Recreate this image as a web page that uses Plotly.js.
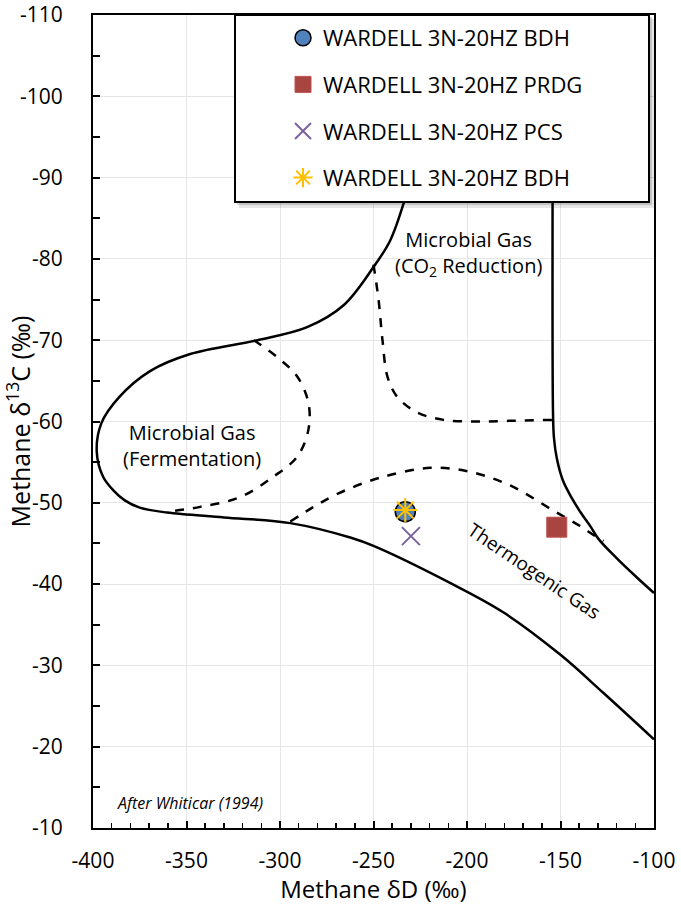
<!DOCTYPE html>
<html><head><meta charset="utf-8">
<script src="https://cdn.plot.ly/plotly-3.0.1.min.js"></script>
<style>html,body{margin:0;padding:0;background:#fff}#chart{width:681px;height:905px}</style>
</head><body><div id="chart"></div>
<script>
// Boundary curves (Methane dD, Methane d13C)
const outerX = [-205,-222,-233,-241,-250,-266,-285.5,-312,-348,-369.5,-386,-395.5,-398,-394.6,-389,-383,-375,-360.4,-330,-294.5,-262,-250,-207,-180.4,-150,-127,-100];
const outerY = [-110,-97,-87.5,-82.3,-79,-74.3,-71.6,-70,-68.3,-66.2,-63,-59.8,-56.3,-53.2,-51.5,-50.3,-49.4,-48.8,-48.2,-47.5,-45.7,-44.7,-39.9,-36.5,-31.3,-26.6,-20.9];
const rightX = [-154,-154,-153.5,-152,-148.8,-144,-139.2,-134,-129.5,-120,-110,-100];
const rightY = [-110,-61,-58,-55.5,-52.8,-50.6,-48.8,-47.1,-45.5,-43.2,-41,-38.9];
const fermX = [-314,-301.4,-290.7,-284.8,-284.8,-290.7,-303.6,-321.3,-342.7,-360.4];
const fermY = [-70,-67.9,-65.5,-62.3,-59,-55.7,-53.2,-50.7,-49.5,-48.9];
const co2X = [-250,-247.3,-245.2,-242.5,-237.2,-226.5,-212.5,-194.3,-175,-154];
const co2Y = [-79.3,-75,-70,-65.5,-63,-61.1,-60.2,-60,-60.1,-60.2];
const thermoX = [-294.5,-282,-269.3,-246.3,-219.5,-198.1,-176.6,-153.5,-140,-132,-127];
const thermoY = [-47.7,-49.5,-51.1,-53.1,-54.3,-53.8,-52.1,-49,-47.2,-46,-45.3];

// Samples
const seriesNames = ["WARDELL 3N-20HZ BDH","WARDELL 3N-20HZ PRDG","WARDELL 3N-20HZ PCS","WARDELL 3N-20HZ BDH"];
const sampleD = [-233, -152, -230, -233];
const sampleC = [-48.9, -47.0, -45.9, -49.1];

// Tick labels
const xTickVals = [-400,-350,-300,-250,-200,-150,-100];
const xTickText = ["-400","-350","-300","-250","-200","-150","-100"];
const yTickVals = [-110,-100,-90,-80,-70,-60,-50,-40,-30,-20,-10];
const yTickText = ["-110","-100","-90","-80","-70","-60","-50","-40","-30","-20","-10"];

const solid = {color:'#000', width:2.5, shape:'spline', smoothing:1};
const dashed = {color:'#000', width:2.5, dash:'dash', shape:'spline', smoothing:1};
function curve(x,y,line){return {x:x,y:y,mode:'lines',line:line,showlegend:false,hoverinfo:'skip',type:'scatter'};}

const traces = [
  curve(outerX, outerY, solid),
  curve(rightX, rightY, solid),
  curve(fermX, fermY, dashed),
  curve(co2X, co2Y, dashed),
  curve(thermoX, thermoY, dashed),
  {x:[sampleD[0]], y:[sampleC[0]], name:seriesNames[0], mode:'markers', type:'scatter', legendgroup:'a',
   marker:{symbol:'circle', size:20, color:'#4F81BD', line:{color:'#000', width:1.5}}},
  {x:[sampleD[1]], y:[sampleC[1]], name:seriesNames[1], mode:'markers', type:'scatter', legendgroup:'b',
   marker:{symbol:'square', size:20, color:'#A84541', line:{color:'#C0504D', width:1}}},
  {x:[sampleD[2]], y:[sampleC[2]], name:seriesNames[2], mode:'markers', type:'scatter', legendgroup:'c',
   marker:{symbol:'x-thin-open', size:18, color:'#7A62A0', line:{color:'#7A62A0', width:2}}},
  {x:[sampleD[3]], y:[sampleC[3]], name:seriesNames[3], mode:'markers', type:'scatter', legendgroup:'d',
   marker:{symbol:'asterisk-open', size:20, color:'#FFC000', line:{color:'#FFC000', width:2}}}
];

const L=93, R=27, T=15, B=77, W=681, H=905;
const pw=W-L-R, ph=H-T-B;
const px=v=>(v-L)/pw, py=v=>(H-B-v)/ph;
const F='Open Sans, sans-serif';

const layout = {
  width:W, height:H,
  margin:{l:L, r:R, t:T, b:B},
  paper_bgcolor:'#fff', plot_bgcolor:'#fff',
  font:{family:F, color:'#000'},
  showlegend:true,
  xaxis:{range:[-400,-100], tickmode:'array', tickvals:xTickVals, ticktext:xTickText,
    showgrid:true, gridcolor:'#E6E6E6', gridwidth:1,
    zeroline:false, showline:true, linecolor:'#000', linewidth:2, mirror:true,
    ticks:'inside', ticklen:7, tickwidth:2, tickcolor:'#000', ticklabelstandoff:13,
    tickfont:{size:21, family:F},
    minor:{dtick:10, tick0:-400, ticks:'inside', ticklen:5, tickwidth:1.5, tickcolor:'#000', showgrid:false},
    title:{text:'Methane δD (‰)', font:{size:24, family:F}, standoff:6}},
  yaxis:{range:[-10,-110], tickmode:'array', tickvals:yTickVals, ticktext:yTickText,
    showgrid:true, gridcolor:'#E6E6E6', gridwidth:1,
    zeroline:false, showline:true, linecolor:'#000', linewidth:2, mirror:true,
    ticks:'inside', ticklen:7, tickwidth:2, tickcolor:'#000', ticklabelstandoff:24,
    tickfont:{size:21, family:F},
    minor:{dtick:5, tick0:-110, ticks:'inside', ticklen:7, tickwidth:2, tickcolor:'#000', showgrid:false},
    title:{text:'Methane δ<sup>13</sup>C (‰)', font:{size:25, family:F}, standoff:6}},
  legend:{x:px(283), y:py(17), xanchor:'left', yanchor:'top', bgcolor:'rgba(0,0,0,0)', borderwidth:0,
    font:{size:22, family:F, color:'#000'}, traceorder:'grouped', tracegroupgap:15},
  shapes:[
    {type:'rect', xref:'paper', yref:'paper', x0:px(239), x1:px(655), y0:py(208), y1:py(19), fillcolor:'rgba(0,0,0,0.10)', line:{width:0}},
    {type:'rect', xref:'paper', yref:'paper', x0:px(237), x1:px(652), y0:py(205), y1:py(17), fillcolor:'rgba(0,0,0,0.15)', line:{width:0}},
    {type:'rect', xref:'paper', yref:'paper', x0:px(235), x1:px(649), y0:py(202), y1:py(15), fillcolor:'#fff', line:{color:'#000', width:2}}
  ],
  annotations:[
    {x:-347, y:-57.1, xref:'x', yref:'y', text:'Microbial Gas<br>(Fermentation)', showarrow:false, font:{size:20, family:F}, align:'center'},
    {x:-199, y:-80.7, xref:'x', yref:'y', text:'Microbial Gas<br>(CO<sub>2</sub> Reduction)', showarrow:false, font:{size:20, family:F}, align:'center'},
    {x:-164, y:-41.6, xref:'x', yref:'y', text:'Thermogenic Gas', textangle:34, showarrow:false, font:{size:19, family:F}},
    {x:-388, y:-13.1, xref:'x', yref:'y', xanchor:'left', text:'<i>After Whiticar (1994)</i>', showarrow:false, font:{size:16, family:F}}
  ]
};
Plotly.newPlot('chart', traces, layout, {staticPlot:true, displayModeBar:false});
</script></body></html>
